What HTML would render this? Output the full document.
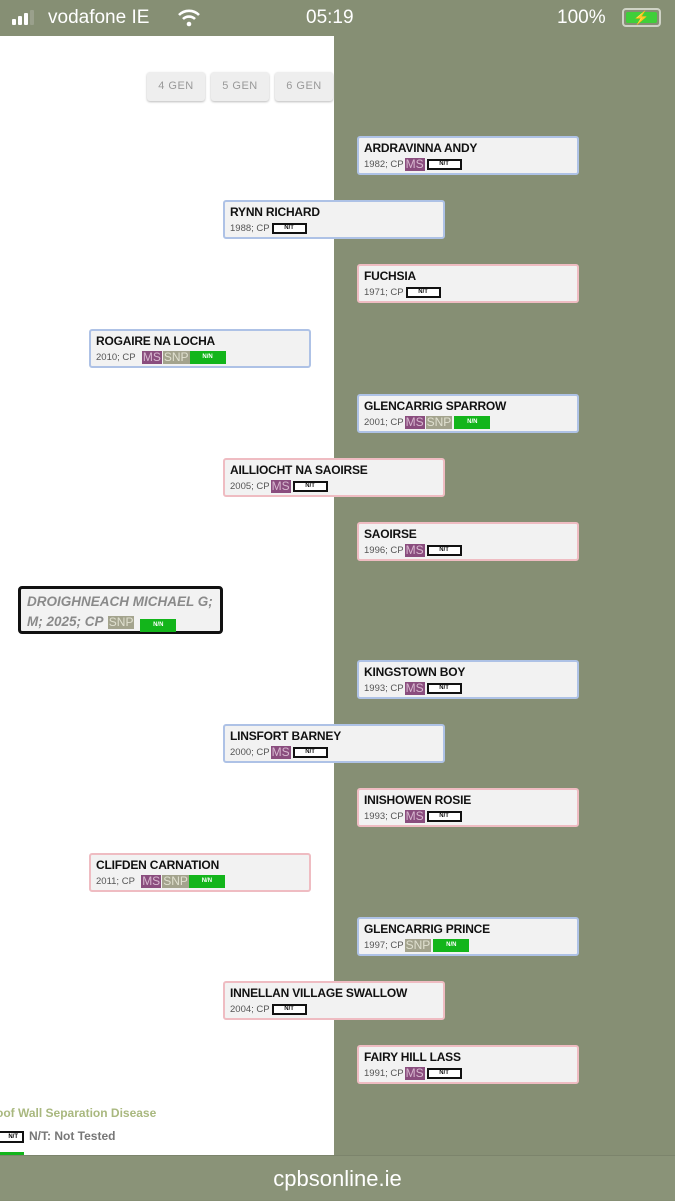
<!DOCTYPE html>
<html><head><style>
*{margin:0;padding:0;box-sizing:border-box}
body{width:675px;height:1200px;background:#868f74;position:relative;overflow:hidden;font-family:"Liberation Sans",sans-serif}
.status{position:absolute;top:0;left:0;width:675px;height:36px;color:#fff;font-size:19px}
.panel{position:absolute;left:0;top:36px;width:334px;height:1120px;background:#fff}
.btn{position:absolute;top:72px;width:58px;height:29px;background:#eeeeee;border-radius:3px;box-shadow:0 1px 2px #bbb;color:#999;font-size:11px;text-align:center;line-height:29px;letter-spacing:.5px}
.card{position:absolute;width:222px;height:39px;background:#f2f2f2;border:2px solid #aec2e6;border-radius:3px;padding:3px 0 0 5px}
.card.f{border-color:#efbcc2}
.card b{display:block;font-size:12px;color:#111;line-height:15px;letter-spacing:-.2px}
.sub{font-size:9.5px;color:#555;line-height:13px;margin-top:2px;display:flex;align-items:center;white-space:nowrap}
.ms{display:inline-block;background:#8a4d7e;color:#d8b8d0;font-size:12px;height:13px;line-height:13px;padding:0 1px;margin-left:1px}
.snp{display:inline-block;background:#a3a38d;color:#e0e0d0;font-size:12px;height:13px;line-height:13px;padding:0 1px;margin-left:1px}
.nt{display:inline-block;width:35px;height:11px;border:2px solid #111;background:#fff;font-size:6px;font-weight:bold;text-align:center;line-height:7px;margin-left:2px;color:#111}
.nn{display:inline-block;width:36px;height:13px;background:#13b51b;color:#fff;font-size:6px;font-weight:bold;text-align:center;line-height:13px;margin-left:2px}
.bottom{position:absolute;left:0;top:1155px;width:675px;height:45px;background:#8a9378;color:#fff;font-size:22px;text-align:center;line-height:45px;border-top:1px solid #7c846c}
</style></head><body>
<div class="status">
 <div style="position:absolute;left:12px;top:19px;width:4px;height:6px;background:#fff;border-radius:1px"></div>
 <div style="position:absolute;left:18px;top:16px;width:4px;height:9px;background:#fff;border-radius:1px"></div>
 <div style="position:absolute;left:24px;top:13px;width:4px;height:12px;background:#fff;border-radius:1px"></div>
 <div style="position:absolute;left:30px;top:10px;width:4px;height:15px;background:#9aa08c;border-radius:1px"></div>
 <span style="position:absolute;left:48px;top:7px">vodafone IE</span>
 <svg style="position:absolute;left:177px;top:9px" width="24" height="18" viewBox="0 0 24 18"><path d="M2 6 A14 14 0 0 1 22 6" stroke="#fff" stroke-width="2.6" fill="none"/><path d="M6 10 A8.5 8.5 0 0 1 18 10" stroke="#fff" stroke-width="2.6" fill="none"/><circle cx="12" cy="15" r="2.3" fill="#fff"/></svg>
 <span style="position:absolute;left:306px;top:7px">05:19</span>
 <span style="position:absolute;left:557px;top:7px">100%</span>
 <div style="position:absolute;left:622px;top:8px;width:39px;height:19px;border:2px solid #cfd3c6;border-radius:4px;padding:2px"><div style="width:100%;height:100%;background:#3fcf3a;border-radius:2px;color:#fff;font-size:13px;text-align:center;line-height:11px">&#x26A1;</div></div>
</div>
<div class="panel"></div>
<div class="btn" style="left:147px">4 GEN</div>
<div class="btn" style="left:211px">5 GEN</div>
<div class="btn" style="left:275px">6 GEN</div>

<div class="card" style="left:357px;top:136px"><b>ARDRAVINNA ANDY</b><div class="sub">1982; CP<span class="ms">MS</span><span class="nt">N/T</span></div></div>
<div class="card" style="left:223px;top:200px"><b>RYNN RICHARD</b><div class="sub">1988; CP<span class="nt">N/T</span></div></div>
<div class="card f" style="left:357px;top:264px"><b>FUCHSIA</b><div class="sub">1971; CP<span class="nt">N/T</span></div></div>
<div class="card" style="left:89px;top:329px"><b>ROGAIRE NA LOCHA</b><div class="sub">2010; CP&nbsp;&nbsp;<span class="ms">MS</span><span class="snp">SNP</span><span class="nn" style="margin-left:0">N/N</span></div></div>
<div class="card" style="left:357px;top:394px"><b>GLENCARRIG SPARROW</b><div class="sub">2001; CP<span class="ms">MS</span><span class="snp">SNP</span><span class="nn">N/N</span></div></div>
<div class="card f" style="left:223px;top:458px"><b>AILLIOCHT NA SAOIRSE</b><div class="sub">2005; CP<span class="ms">MS</span><span class="nt">N/T</span></div></div>
<div class="card f" style="left:357px;top:522px"><b>SAOIRSE</b><div class="sub">1996; CP<span class="ms">MS</span><span class="nt">N/T</span></div></div>

<div style="position:absolute;left:18px;top:586px;width:205px;height:48px;background:#f2f2f2;border:3px solid #111;border-radius:4px;padding:3px 0 0 6px;font-style:italic;font-weight:bold;color:#8a8a8a;font-size:13.5px;line-height:20px">DROIGHNEACH MICHAEL G;<br>M; 2025; CP <span class="snp" style="font-style:normal;font-weight:normal">SNP</span> <span class="nn" style="font-style:normal">N/N</span></div>

<div class="card" style="left:357px;top:660px"><b>KINGSTOWN BOY</b><div class="sub">1993; CP<span class="ms">MS</span><span class="nt">N/T</span></div></div>
<div class="card" style="left:223px;top:724px"><b>LINSFORT BARNEY</b><div class="sub">2000; CP<span class="ms">MS</span><span class="nt">N/T</span></div></div>
<div class="card f" style="left:357px;top:788px"><b>INISHOWEN ROSIE</b><div class="sub">1993; CP<span class="ms">MS</span><span class="nt">N/T</span></div></div>
<div class="card f" style="left:89px;top:853px"><b>CLIFDEN CARNATION</b><div class="sub">2011; CP&nbsp;&nbsp;<span class="ms">MS</span><span class="snp">SNP</span><span class="nn" style="margin-left:0">N/N</span></div></div>
<div class="card" style="left:357px;top:917px"><b>GLENCARRIG PRINCE</b><div class="sub">1997; CP<span class="snp">SNP</span><span class="nn">N/N</span></div></div>
<div class="card f" style="left:223px;top:981px"><b>INNELLAN VILLAGE SWALLOW</b><div class="sub">2004; CP<span class="nt">N/T</span></div></div>
<div class="card f" style="left:357px;top:1045px"><b>FAIRY HILL LASS</b><div class="sub">1991; CP<span class="ms">MS</span><span class="nt">N/T</span></div></div>

<div style="position:absolute;left:-4px;top:1106px;font-size:12px;font-weight:bold;color:#a9b87f">oof Wall Separation Disease</div>
<div style="position:absolute;left:-12px;top:1131px;width:36px;height:12px;border:2px solid #111;background:#fff;font-size:6px;font-weight:bold;text-align:right;padding-right:4px;line-height:8px">N/T</div>
<div style="position:absolute;left:29px;top:1129px;font-size:12px;font-weight:bold;color:#777">N/T: Not Tested</div>
<div style="position:absolute;left:-12px;top:1152px;width:36px;height:4px;background:#13b51b"></div>
<div class="bottom">cpbsonline.ie</div>
</body></html>
